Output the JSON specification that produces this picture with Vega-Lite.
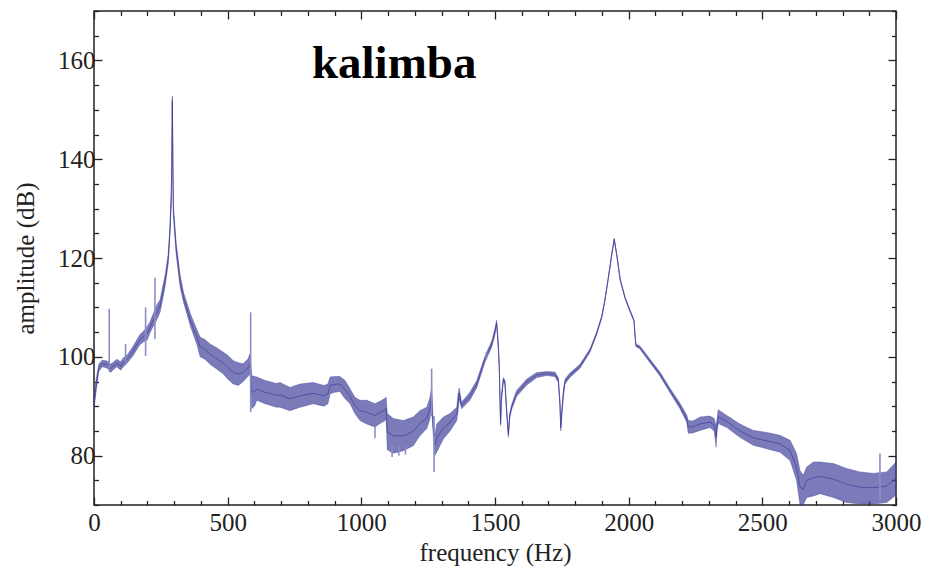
{
  "$schema": "https://vega.github.io/schema/vega-lite/v6.json",
  "width": 802,
  "height": 494,
  "autosize": {"type": "none"},
  "padding": {"left": 94, "top": 11, "right": 29, "bottom": 67},
  "background": "white",
  "config": {
    "font": "Liberation Serif",
    "view": {"stroke": "#222222", "strokeWidth": 1.5},
    "axis": {
      "domain": false, "grid": false,
      "labelFont": "Liberation Serif", "titleFont": "Liberation Serif",
      "labelFontSize": 25, "titleFontSize": 25, "titleFontWeight": "normal",
      "labelColor": "#222222", "titleColor": "#222222",
      "tickColor": "#222222", "tickWidth": 1.3,
      "labelOverlap": false, "labelFlush": false
    }
  },
  "datasets": {
    "spectrum": [
      {"f":0,"lo":89.5,"hi":91.5,"m":90.5},{"f":8,"lo":93,"hi":95.5,"m":94.2},{"f":18,"lo":97,"hi":98.5,"m":97.8},
      {"f":30,"lo":98,"hi":99.3,"m":98.6},{"f":45,"lo":97.8,"hi":99.2,"m":98.5},{"f":55,"lo":97.5,"hi":99,"m":98.2},
      {"f":62,"lo":96.8,"hi":98.5,"m":97.6},{"f":70,"lo":97.3,"hi":98.8,"m":98},{"f":85,"lo":98,"hi":99.5,"m":98.7},
      {"f":100,"lo":97.3,"hi":99,"m":98.1},{"f":110,"lo":98,"hi":99.8,"m":98.9},{"f":125,"lo":98.8,"hi":100.4,"m":99.6},
      {"f":147,"lo":100.3,"hi":102.2,"m":101.2},{"f":172,"lo":102.5,"hi":104.5,"m":103.5},{"f":190,"lo":103.2,"hi":105.5,"m":104.3},
      {"f":200,"lo":103.5,"hi":106.2,"m":104.8},{"f":209,"lo":104.8,"hi":107,"m":105.9},{"f":220,"lo":106,"hi":108.5,"m":107.2},
      {"f":235,"lo":107.5,"hi":110.5,"m":109},{"f":247,"lo":109,"hi":111.5,"m":110.2},{"f":258,"lo":112,"hi":114.5,"m":113.2},
      {"f":266,"lo":114.3,"hi":116.5,"m":115.4},{"f":278,"lo":119,"hi":121,"m":120},{"f":284,"lo":124.5,"hi":126.5,"m":125.5},
      {"f":289,"lo":131,"hi":133.5,"m":132.2},{"f":291,"lo":138,"hi":140,"m":139},{"f":293,"lo":151.5,"hi":152.8,"m":152.1},
      {"f":295,"lo":138,"hi":140,"m":139},{"f":297,"lo":128.5,"hi":130.5,"m":129.5},{"f":307,"lo":121,"hi":123.3,"m":122.1},
      {"f":322,"lo":114.2,"hi":116.6,"m":115.4},{"f":335,"lo":111,"hi":113,"m":112},{"f":347,"lo":108.8,"hi":111,"m":109.9},
      {"f":360,"lo":106.3,"hi":108.8,"m":107.5},{"f":371,"lo":104.6,"hi":107.3,"m":105.9},{"f":385,"lo":102.5,"hi":105.5,"m":104},
      {"f":397,"lo":100,"hi":104,"m":102},{"f":415,"lo":99.5,"hi":103.5,"m":101.5},{"f":434,"lo":98.5,"hi":102.6,"m":100.5},
      {"f":460,"lo":97.5,"hi":101.8,"m":99.6},{"f":484,"lo":96.5,"hi":100.9,"m":98.7},{"f":500,"lo":95.5,"hi":100.3,"m":97.9},
      {"f":521,"lo":94.5,"hi":99.2,"m":96.8},{"f":540,"lo":94.2,"hi":98.8,"m":96.5},{"f":558,"lo":95,"hi":98.6,"m":96.8},
      {"f":575,"lo":96,"hi":99.5,"m":97.7},{"f":584,"lo":96.5,"hi":100.6,"m":98.5},{"f":590,"lo":89.5,"hi":96.2,"m":92.8},
      {"f":600,"lo":90,"hi":96,"m":93},{"f":609,"lo":91.2,"hi":95.9,"m":93.5},{"f":640,"lo":90.5,"hi":95.2,"m":92.8},
      {"f":683,"lo":89.8,"hi":94.6,"m":92.2},{"f":696,"lo":89.8,"hi":94.8,"m":92.3},{"f":733,"lo":89.1,"hi":93.8,"m":91.5},
      {"f":771,"lo":89.8,"hi":94.5,"m":92.1},{"f":820,"lo":90.5,"hi":94.8,"m":92.6},{"f":860,"lo":90,"hi":94.2,"m":92.1},
      {"f":875,"lo":90.5,"hi":94.5,"m":92.5},{"f":883,"lo":92.5,"hi":95.9,"m":94.2},{"f":900,"lo":92.8,"hi":96,"m":94.4},
      {"f":920,"lo":93,"hi":96,"m":94.5},{"f":939,"lo":91.5,"hi":95.2,"m":93.3},{"f":958,"lo":90.5,"hi":93.5,"m":92},
      {"f":976,"lo":88.5,"hi":91.8,"m":90.1},{"f":995,"lo":87.1,"hi":91.2,"m":89.1},{"f":1020,"lo":86.4,"hi":91.2,"m":88.8},
      {"f":1051,"lo":85.8,"hi":90.5,"m":88.1},{"f":1070,"lo":86.5,"hi":91,"m":88.7},{"f":1089,"lo":87.1,"hi":91.6,"m":89.3},
      {"f":1093,"lo":87.5,"hi":91.8,"m":89.6},{"f":1097,"lo":81.2,"hi":88.5,"m":84.8},{"f":1120,"lo":80.5,"hi":87.5,"m":84},
      {"f":1157,"lo":81,"hi":87.1,"m":84},{"f":1194,"lo":82,"hi":87.8,"m":84.9},{"f":1219,"lo":84,"hi":89.1,"m":86.5},
      {"f":1245,"lo":85.5,"hi":89.8,"m":87.6},{"f":1257,"lo":87.5,"hi":91.8,"m":89.6},{"f":1263,"lo":90,"hi":94,"m":92},
      {"f":1268,"lo":85,"hi":88,"m":86.5},{"f":1275,"lo":80,"hi":84,"m":82},{"f":1282,"lo":80.7,"hi":86.4,"m":83.5},
      {"f":1307,"lo":83.4,"hi":87.8,"m":85.6},{"f":1332,"lo":85,"hi":88.5,"m":86.7},{"f":1357,"lo":87.1,"hi":89.8,"m":88.4},
      {"f":1362,"lo":89,"hi":92.5,"m":90.7},{"f":1366,"lo":91.5,"hi":93.7,"m":92.6},{"f":1375,"lo":89.5,"hi":90.8,"m":90.1},
      {"f":1406,"lo":91.2,"hi":92.8,"m":92},{"f":1432,"lo":93.8,"hi":95.2,"m":94.5},{"f":1463,"lo":99,"hi":100.2,"m":99.6},
      {"f":1488,"lo":102,"hi":103.2,"m":102.6},{"f":1500,"lo":104.5,"hi":105.8,"m":105.1},{"f":1506,"lo":106.5,"hi":107.4,"m":106.9},
      {"f":1512,"lo":102,"hi":103,"m":102.5},{"f":1516,"lo":97.5,"hi":98.3,"m":97.9},{"f":1519,"lo":90,"hi":91,"m":90.5},
      {"f":1521,"lo":86.1,"hi":87,"m":86.5},{"f":1524,"lo":91,"hi":92,"m":91.5},{"f":1531,"lo":95,"hi":95.8,"m":95.4},
      {"f":1537,"lo":94.5,"hi":95.3,"m":94.9},{"f":1543,"lo":89,"hi":90,"m":89.5},{"f":1550,"lo":83.7,"hi":84.8,"m":84.2},
      {"f":1555,"lo":87.5,"hi":88.5,"m":88},{"f":1562,"lo":89.3,"hi":90.3,"m":89.8},{"f":1581,"lo":92,"hi":93.2,"m":92.6},
      {"f":1619,"lo":94.3,"hi":95.5,"m":94.9},{"f":1656,"lo":95.8,"hi":96.8,"m":96.3},{"f":1693,"lo":96.2,"hi":97,"m":96.6},
      {"f":1724,"lo":96,"hi":96.9,"m":96.4},{"f":1737,"lo":94.8,"hi":95.8,"m":95.3},{"f":1743,"lo":90,"hi":91,"m":90.5},
      {"f":1746,"lo":85,"hi":86.2,"m":85.6},{"f":1750,"lo":88,"hi":89.5,"m":88.7},{"f":1756,"lo":92,"hi":93.5,"m":92.7},
      {"f":1762,"lo":94.5,"hi":95.5,"m":95},{"f":1780,"lo":95.8,"hi":96.7,"m":96.2},{"f":1818,"lo":97.7,"hi":98.5,"m":98.1},
      {"f":1855,"lo":100.9,"hi":101.6,"m":101.2},{"f":1880,"lo":104.4,"hi":105,"m":104.7},{"f":1899,"lo":107.8,"hi":108.3,"m":108},
      {"f":1911,"lo":111.2,"hi":111.6,"m":111.4},{"f":1924,"lo":115.8,"hi":116.2,"m":116},{"f":1937,"lo":120.6,"hi":121,"m":120.8},
      {"f":1946,"lo":123.6,"hi":124,"m":123.8},{"f":1957,"lo":119.9,"hi":120.3,"m":120.1},{"f":1968,"lo":115.5,"hi":115.9,"m":115.7},
      {"f":1986,"lo":111.8,"hi":112.2,"m":112},{"f":2005,"lo":109.1,"hi":109.5,"m":109.3},{"f":2020,"lo":107.1,"hi":107.5,"m":107.3},
      {"f":2024,"lo":104,"hi":104.5,"m":104.2},{"f":2027,"lo":102.1,"hi":102.6,"m":102.3},{"f":2042,"lo":101.6,"hi":102.2,"m":101.9},
      {"f":2080,"lo":98.8,"hi":99.5,"m":99.1},{"f":2117,"lo":96.1,"hi":96.9,"m":96.5},{"f":2155,"lo":92.7,"hi":93.6,"m":93.1},
      {"f":2192,"lo":89.5,"hi":90.6,"m":90},{"f":2217,"lo":86.8,"hi":88.2,"m":87.5},{"f":2223,"lo":84.5,"hi":87.1,"m":85.8},
      {"f":2240,"lo":84.6,"hi":87,"m":85.8},{"f":2267,"lo":85.1,"hi":87.8,"m":86.4},{"f":2304,"lo":85.7,"hi":88,"m":86.8},
      {"f":2320,"lo":85,"hi":87.5,"m":86.2},{"f":2327,"lo":81.7,"hi":86,"m":83.8},{"f":2331,"lo":85,"hi":87.5,"m":86.2},
      {"f":2335,"lo":86.5,"hi":89.3,"m":87.9},{"f":2367,"lo":85.7,"hi":88.1,"m":86.9},{"f":2416,"lo":83.7,"hi":86.4,"m":85},
      {"f":2466,"lo":82.1,"hi":85.1,"m":83.6},{"f":2516,"lo":81.4,"hi":84.7,"m":83},{"f":2566,"lo":80.7,"hi":84.1,"m":82.4},
      {"f":2604,"lo":79,"hi":83.1,"m":81},{"f":2628,"lo":75,"hi":80.4,"m":77.7},{"f":2641,"lo":70,"hi":77,"m":73.6},
      {"f":2653,"lo":70,"hi":76,"m":73.2},{"f":2666,"lo":71.5,"hi":77.7,"m":75},{"f":2691,"lo":71.8,"hi":78.7,"m":75.5},
      {"f":2716,"lo":72.3,"hi":78.7,"m":75.8},{"f":2766,"lo":71.5,"hi":78.4,"m":75.2},{"f":2815,"lo":70.5,"hi":77.4,"m":74.2},
      {"f":2865,"lo":70.2,"hi":76.7,"m":73.6},{"f":2915,"lo":70.2,"hi":76.4,"m":73.5},{"f":2965,"lo":70.5,"hi":76.7,"m":73.8},
      {"f":3000,"lo":72,"hi":78.7,"m":75.5}
    ],
    "spikes": [
      {"f":57,"lo":97,"hi":109.7},{"f":118,"lo":98.8,"hi":102.6},{"f":193,"lo":100.2,"hi":110},
      {"f":228,"lo":103.6,"hi":116},{"f":586,"lo":88.8,"hi":109},{"f":1051,"lo":83.5,"hi":86},
      {"f":1115,"lo":79.7,"hi":82},{"f":1140,"lo":80,"hi":82},{"f":1165,"lo":80.2,"hi":82},
      {"f":1263,"lo":88,"hi":97.6},{"f":1272,"lo":76.7,"hi":88},{"f":1468,"lo":99.5,"hi":101},
      {"f":2940,"lo":71,"hi":80.4}
    ],
    "labels": [{"f":815,"a":156.4,"t":"kalimba"}]
  },
  "layer": [
    {
      "data": {"name": "spectrum"},
      "mark": {"type": "area", "clip": true, "fill": "#3d3d99", "fillOpacity": 0.68, "stroke": "#3d3d99", "strokeOpacity": 0.4, "strokeWidth": 1},
      "encoding": {
        "x": {"field": "f", "type": "quantitative", "scale": {"domain": [0, 3000], "nice": false, "zero": false},
              "axis": {"orient": "bottom", "values": [0,500,1000,1500,2000,2500,3000], "format": "d", "tickSize": -8, "labelPadding": 13, "title": "frequency (Hz)", "titleFont": "Liberation Serif", "titleFontWeight": "normal", "titlePadding": 5}},
        "y": {"field": "lo", "type": "quantitative", "scale": {"domain": [70, 170], "nice": false, "zero": false},
              "axis": {"orient": "left", "values": [80,100,120,140,160], "format": "d", "tickSize": -8, "labelPadding": 7, "title": "amplitude (dB)", "titleFont": "Liberation Serif", "titleFontWeight": "normal", "titlePadding": 19}},
        "y2": {"field": "hi"}
      }
    },
    {
      "data": {"name": "spectrum"},
      "mark": {"type": "line", "clip": true, "stroke": "#3d3d99", "strokeWidth": 1, "strokeOpacity": 0.7},
      "encoding": {
        "x": {"field": "f", "type": "quantitative", "scale": {"domain": [0, 3000], "nice": false, "zero": false},
              "axis": {"orient": "bottom", "values": [100,200,300,400,600,700,800,900,1100,1200,1300,1400,1600,1700,1800,1900,2100,2200,2300,2400,2600,2700,2800,2900], "tickSize": -4.5, "labels": false, "title": null}},
        "y": {"field": "m", "type": "quantitative", "scale": {"domain": [70, 170], "nice": false, "zero": false},
              "axis": {"orient": "left", "values": [70,75,85,90,95,105,110,115,125,130,135,145,150,155,165,170], "tickSize": -4.5, "labels": false, "title": null}}
      }
    },
    {
      "data": {"name": "spikes"},
      "mark": {"type": "rule", "clip": true, "stroke": "#8c8cc8", "strokeWidth": 1.6},
      "encoding": {
        "x": {"field": "f", "type": "quantitative", "scale": {"domain": [0, 3000], "nice": false, "zero": false},
              "axis": {"orient": "top", "values": [0,500,1000,1500,2000,2500,3000], "tickSize": -8, "labels": false, "title": null}},
        "y": {"field": "lo", "type": "quantitative", "scale": {"domain": [70, 170], "nice": false, "zero": false},
              "axis": {"orient": "right", "values": [80,100,120,140,160], "tickSize": -8, "labels": false, "title": null}},
        "y2": {"field": "hi"}
      }
    },
    {
      "data": {"name": "labels"},
      "mark": {"type": "text", "align": "left", "baseline": "alphabetic", "font": "Liberation Serif", "fontWeight": "bold", "fontSize": 47, "color": "#000000"},
      "encoding": {
        "x": {"field": "f", "type": "quantitative", "scale": {"domain": [0, 3000], "nice": false, "zero": false},
              "axis": {"orient": "top", "values": [100,200,300,400,600,700,800,900,1100,1200,1300,1400,1600,1700,1800,1900,2100,2200,2300,2400,2600,2700,2800,2900], "tickSize": -4.5, "labels": false, "title": null}},
        "y": {"field": "a", "type": "quantitative", "scale": {"domain": [70, 170], "nice": false, "zero": false},
              "axis": {"orient": "right", "values": [70,75,85,90,95,105,110,115,125,130,135,145,150,155,165,170], "tickSize": -4.5, "labels": false, "title": null}},
        "text": {"field": "t", "type": "nominal"}
      }
    }
  ],
  "resolve": {"axis": {"x": "independent", "y": "independent"}}
}
